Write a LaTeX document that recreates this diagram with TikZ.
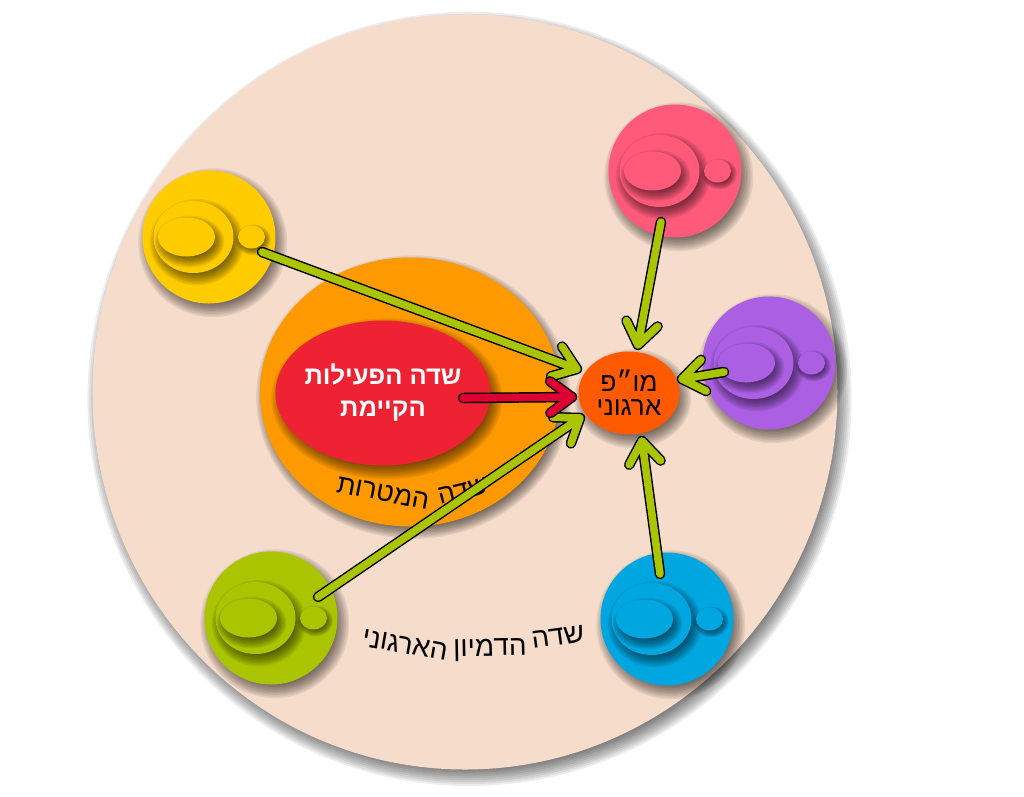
\documentclass[tikz,border=0pt]{standalone}
\usepackage{fontspec}
\setmainfont{Liberation Sans}
\newfontfamily\hebfont[Script=Hebrew]{Liberation Sans}
\TeXXeTstate=1
\usetikzlibrary{calc, shapes.geometric}

\definecolor{fieldpeach}{HTML}{F6DCCB}
\definecolor{goalorange}{HTML}{FF9900}
\definecolor{activered}{HTML}{EE2233}
\definecolor{rndorange}{HTML}{FF5A00}
\definecolor{arrowgreen}{HTML}{AAC400}
\definecolor{arrowred}{HTML}{DC0032}
\definecolor{satyellow}{HTML}{FFCC00}
\definecolor{satpink}{HTML}{FF5A7A}
\definecolor{satpurple}{HTML}{AB5FE3}
\definecolor{satblue}{HTML}{00A6E0}

\tikzset{
    shadowlayer/.style={fill=black, opacity=.07},
    blobnode/.style={ellipse, inner sep=0pt},
    fieldtext/.style={inner sep=0pt, font=\hebfont\fontsize{#1}{30}\selectfont},
    boxtext/.style={align=center, inner sep=-12pt},
    arrowout/.style={draw=black, line width=#1, line cap=round, line join=round},
    arrowin/.style={line width=#1, line cap=round, line join=round},
}

% soft shadow: centre, width, height, size
\newcommand{\softshadow}[4]{
    \foreach \layer in {-1,-.8,-.6,-.4,-.2,0,.2,.4,.6,.8,1}
        \fill[shadowlayer] ($(#1)+(#4*.75,#4*1.15)$) ellipse [x radius={#2/2+\layer*#4*1.6}, y radius={#3/2+\layer*#4*1.6}];
}
% one shaded blob: name, centre, width, height, shadow size, colour
\newcommand{\blob}[6]{
    \softshadow{#2}{#3}{#4}{#5}
    \node[blobnode, fill=#6, minimum width=#3pt, minimum height=#4pt] (#1) at (#2) {};
}
% one satellite: name, x, y, colour
\newcommand{\satellite}[4]{
    \blob{#1}{#2,#3}{133}{133}{5}{#4}
    \blob{#1ring}{#2-15.5,#3}{80}{72}{4.5}{#4}
    \blob{#1core}{#2-22.5,#3}{57}{39}{4}{#4}
    \blob{#1dot}{#2+42.5,#3}{27}{23}{2.5}{#4}
}
% one arrow: from, to, colour
\newcommand{\linkarrow}[3]{
    \coordinate (#1barbl) at ($(#2)!27pt!36:(#1)$);
    \coordinate (#1barbr) at ($(#2)!27pt!-36:(#1)$);
    \draw[arrowout=10.5pt] (#1) -- (#2) (#1barbl) -- (#2) -- (#1barbr);
    \draw[arrowin=7.6pt, draw=#3] (#1) -- (#2) (#1barbl) -- (#2) -- (#1barbr);
}

\begin{document}
\begin{tikzpicture}[x=1pt, y=-1pt]
    \useasboundingbox (0,0) rectangle (1024,796);

    % the three fields
    \blob{imagination}{465,392}{745}{755}{6}{fieldpeach}
    \blob{goals}{410,392}{300}{269}{4.5}{goalorange}
    \softshadow{383,393}{215}{145}{5}
    \node[blobnode, fill=activered, minimum width=215pt, minimum height=145pt, boxtext, text=white, font=\hebfont\bfseries\fontsize{25.5}{32}\selectfont] (active) at (383,393)
        {\beginR שדה הפעילות\endR\\\beginR הקיימת\endR};
    \softshadow{629,393}{101}{83}{5}
    \node[blobnode, fill=rndorange, minimum width=101pt, minimum height=83pt, boxtext, font=\hebfont\fontsize{26.5}{24}\selectfont] (rnd) at (629,393)
        {\beginR מו״פ\endR\\\beginR ארגוני\endR};

    % curved labels, word by word
    \node[fieldtext=27, rotate=-11] (goalsb) at (383,493) {\beginR המטרות\endR};
    \node[fieldtext=27, rotate=14] (goalsa) at (463,491) {\beginR שדה\endR};
    \node[fieldtext=28, rotate=8] (imaginationa) at (558,637) {\beginR שדה\endR};
    \node[fieldtext=28, rotate=1] (imaginationb) at (490,650) {\beginR הדמיון\endR};
    \node[fieldtext=28, rotate=-10] (imaginationc) at (405,645) {\beginR הארגוני\endR};

    \satellite{yellow}{209}{237}{satyellow}
    \satellite{pink}{675}{171}{satpink}
    \satellite{purple}{769}{363}{satpurple}
    \satellite{blue}{667}{619}{satblue}
    \satellite{green}{271}{618}{arrowgreen}

    % arrow ends
    \coordinate (yellowstart) at (262,252);
    \coordinate (yellowtip) at (577,369);
    \coordinate (greenstart) at (318,597);
    \coordinate (greentip) at (580,418);
    \coordinate (pinkstart) at (661,222);
    \coordinate (pinktip) at (638,345);
    \coordinate (purplestart) at (724,372);
    \coordinate (purpletip) at (682,379);
    \coordinate (bluestart) at (660,574);
    \coordinate (bluetip) at (642,441);
    \coordinate (activestart) at (463,398);
    \coordinate (activetip) at (572,397);

    \linkarrow{yellowstart}{yellowtip}{arrowgreen}
    \linkarrow{greenstart}{greentip}{arrowgreen}
    \linkarrow{pinkstart}{pinktip}{arrowgreen}
    \linkarrow{purplestart}{purpletip}{arrowgreen}
    \linkarrow{bluestart}{bluetip}{arrowgreen}
    \linkarrow{activestart}{activetip}{arrowred}
\end{tikzpicture}
\end{document}
